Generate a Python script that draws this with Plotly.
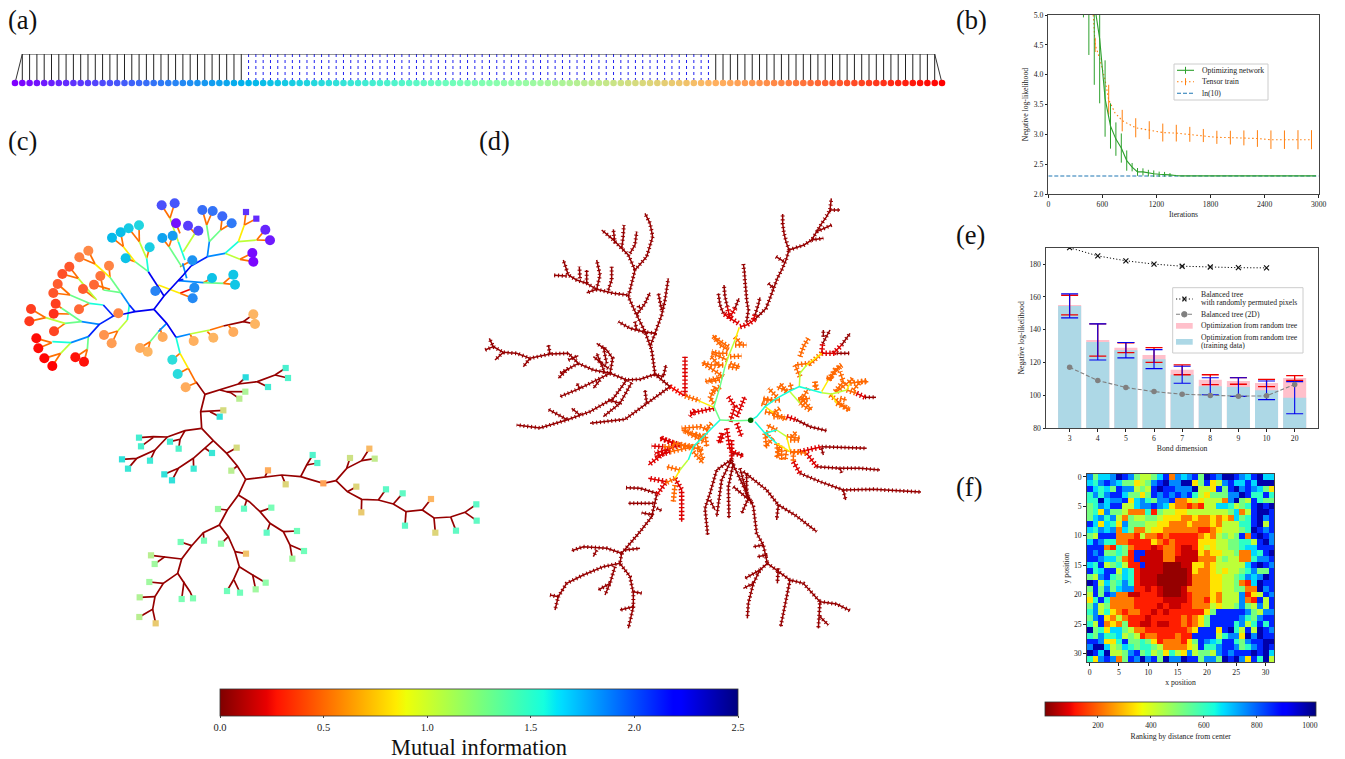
import math
import plotly.graph_objects as go
from plotly.colors import sample_colorscale

# ---------- colour scale (matplotlib jet_r) ----------
JET_R = [[0, "#7f0000"], [0.09, "#e80000"], [0.11, "#ff1300"], [0.34, "#ffec00"], [0.36, "#eeff08"],
         [0.625, "#15ffde"], [0.65, "#00e6f8"], [0.66, "#00dcff"], [0.875, "#0000ff"], [0.89, "#0000ff"], [1, "#00007f"]]
SERIF = "Liberation Serif"
TXT = "#222222"


def rainbow(t):
    r, g, b = min(1, abs(2 * t - 0.5)), math.sin(math.pi * t), math.cos(math.pi * t / 2)
    return f"rgb({int(r*255)},{int(g*255)},{int(b*255)})"


def mi_color(v):
    return sample_colorscale(JET_R, [v / 2.5])[0]


# ---------- (a) chain ----------
a_sites = list(range(128))
a_solid_left = list(range(1, 32))
a_dotted = list(range(32, 96))
a_solid_right = list(range(96, 127))

# ---------- (b) ----------
b_green_x = [390, 450, 510, 570, 630, 690, 750, 810, 870, 930, 990, 1050, 1110, 1170, 1230, 1290, 1350, 1410, 1470, 1800, 2400, 2970]
b_green_y = [6.0, 5.6, 5.2, 4.6, 3.6, 3.14, 2.92, 2.77, 2.56, 2.45, 2.37, 2.37, 2.35, 2.34, 2.33, 2.33, 2.32, 2.31, 2.303, 2.303, 2.303, 2.303]
b_green_e = [1.04, 1.27, 1.37, 1.08, 0.64, 0.38, 0.28, 0.245, 0.17, 0.07, 0.065, 0.06, 0.055, 0.055, 0.045, 0.04, 0.03, 0.01, 0, 0, 0, 0]
b_orange_x = [490, 520, 570, 630, 670, 740, 820, 970, 1120, 1270, 1420, 1570, 1720, 1870, 2020, 2170, 2320, 2470, 2620, 2770, 2920]
b_orange_y = [5.2, 4.5, 4.27, 3.91, 3.58, 3.36, 3.23, 3.11, 3.07, 3.03, 3.02, 3.0, 2.98, 2.95, 2.945, 2.94, 2.93, 2.91, 2.91, 2.91, 2.91]
b_orange_e = [0, 0.12, 0, 0, 0.25, 0, 0.18, 0.16, 0.15, 0.15, 0.14, 0.125, 0.11, 0.11, 0.115, 0.125, 0.14, 0.155, 0.155, 0.16, 0.16]
b_ln10_x = [0, 3000]
b_ln10_y = [2.302585, 2.302585]
b_xticks = [0, 600, 1200, 1800, 2400, 3000]
b_yticks = [2.0, 2.5, 3.0, 3.5, 4.0, 4.5, 5.0]

# ---------- (e) ----------
e_bond = ["3", "4", "5", "6", "7", "8", "9", "10", "20"]
e_test = [155, 133.7, 129, 124.5, 115.5, 109.5, 108.7, 107.5, 110.5]
e_test_err = [6, 9.8, 3, 4.5, 3, 3, 2, 2.2, 1.5]
e_train = [154.5, 132.5, 127.5, 122, 112.5, 105.5, 105, 103, 98.5]
e_train_err = [7.3, 11, 4.7, 5.8, 5.2, 5.2, 5.7, 5.7, 9.8]
e_2d = [117, 109, 104.7, 102.2, 100.6, 99.9, 99.4, 99.6, 106.6]
e_perm = [190.0, 185, 182, 180, 178.7, 178.2, 177.8, 177.7]
e_yticks = [80, 100, 120, 140, 160, 180]

# ---------- (f) heat map, ranks read as colour bands ----------
f_band_rank = {"V": 20, "D": 65, "R": 125, "O": 225, "Y": 340, "L": 430, "G": 520, "T": 610, "C": 680, "S": 760, "B": 860, "N": 985}
f_rows = [
    "SGCC SNBS GLLG CBOS CSBG NBSN NBSC BNCC",
    "CTSB SCGG YLGS BNSS NNYG BYLS BCCB CNNN",
    "BCTC GBSS LGLB NBBS SSNL LYBG BNSB SCGY",
    "TSTS BBCG GYGB SBSB SBTL YGGG SSNB TTBT",
    "TTNC SSBY CSTG SSBO OYLY LLLO SNGL BTGG",
    "GTSC BBLL CSSB SCYO OROR LLCC TLGT BNBN",
    "GTYS GGLO OOTR GLLY YLLL LLLL GCOL BNNB",
    "GCST SLOG LLGG LYYY OOYO OYOY OCGT BNSB",
    "BCYC TYSG GGLL YYOO OYOO OYOL LLTT BNLB",
    "CTSC SOCG OOLY YOOO OOOR ROYL LLGT NBSB",
    "GLBB BOOO RLOO RORR RRRO YOLG LGBO BNBS",
    "CBST TOOR RRRY OROR RRRY YYLL GGTT LBNS",
    "BBBO RTGO RRRD ROOR DDRY LYLL GGTC CBBB",
    "BSBG GTGR BBDD DOOR DDDY OYYL LGOO CTBN",
    "BBSC CGOR BDDD DOOD DDDO OOLG LLOO TSSB",
    "CTBL GTLR RBDD DVVV DDYY OYLL LLLC BNBS",
    "BTCB BLCT RDDD DVVV VDYO OYLY LLGT SGGB",
    "GLSB TGCT RDDD VVVV VDOO OYYL LGTS CSNB",
    "NBLC GTST RDDD VVVV VDOO OYYL LGOR CNBB",
    "GBGS GCSS RRDR DVVV DOOO OYYL LGGO ONSB",
    "LBGB SOOD DRRR DVVV DROO OYOL LLSR YLBS",
    "YTBT OOOO RRRR RDDD DROO RYOL LLSO RBLB",
    "GSLG OOOO RRRR DRDD RROO OLYL LGSG LSLB",
    "TSLT YORO ORRD RDRR RRRR YGBB BBBS GLSS",
    "GSBY OLOR RRDR RRRR OROY GBBB BBST GSBB",
    "TLBO YOGR RDDR DDRR OROY GBBB BTSL TBTB",
    "NGTY CCGL OORR RRRR ROYB BBYB NTLB LNBS",
    "TGST TCLG LROO RRRO RRBB BBLT SSYN SNBB",
    "BBSY YTBG GTGY ROOO RYGB SCTB BTGS BBNN",
    "SNNC LGCT GTTG LOOO OYLB TTSB BSGT SBNB",
    "NBCN LLGS BGTL GYTL YSLG GLSB SBBB NBNC",
    "TYSB SOGB SNSB GNSS NBBG SSGN BNSY BTNL",
]
f_ticks = [0, 5, 10, 15, 20, 25, 30]
f_cbar_ticks = [200, 400, 600, 800, 1000]

# ---------- (c) tree, upper part, (x, y) as read in a crop with origin (10,190) at 3x ----------
c5_navy = [[(432, 358), (375, 365), (342, 372)], [(432, 358), (462, 318), (520, 255), (543, 228)], [(432, 358), (470, 400), (498, 442)], [(462, 318), (415, 245)]]
c5_blue = [[(342, 372), (310, 378), (268, 403), (235, 440)], [(375, 365), (358, 345)], [(543, 228), (592, 200)], [(310, 378), (280, 345)], [(520, 268), (505, 272)]]
c5_sky = [[(235, 440), (183, 458)], [(268, 403), (215, 395)], [(358, 345), (333, 308)], [(592, 200), (645, 190)], [(592, 200), (598, 155)],
          [(505, 272), (580, 278)], [(530, 265), (518, 220)], [(498, 442), (540, 432)], [(470, 400), (445, 425)]]
c5_teal = [[(183, 458), (127, 455)], [(280, 345), (238, 340)], [(358, 345), (352, 390)], [(415, 245), (410, 205)], [(645, 190), (685, 155)],
           [(525, 210), (505, 155)], [(498, 442), (510, 490)]]
c5_green = [[(235, 440), (232, 478)], [(215, 395), (165, 400)], [(238, 340), (180, 315)], [(333, 308), (300, 262)], [(333, 308), (280, 300)],
            [(415, 245), (375, 215)], [(598, 155), (590, 105)], [(598, 155), (632, 120)], [(580, 278), (640, 280)], [(515, 230), (477, 170)],
            [(215, 395), (155, 355)], [(445, 425), (420, 455)]]
c5_lime = [[(183, 458), (152, 490)], [(165, 400), (107, 383)], [(260, 330), (205, 265)], [(352, 390), (323, 423)], [(410, 205), (388, 155)],
           [(505, 155), (480, 85)], [(520, 185), (555, 130)], [(685, 155), (740, 150)], [(645, 190), (690, 208)], [(540, 432), (600, 420)]]
c5_yellow = [[(300, 262), (255, 222)], [(375, 215), (340, 170)], [(445, 285), (510, 310)], [(685, 155), (703, 105)], [(510, 490), (535, 535)]]
c5_orange = [[(125, 458), (79, 445)], [(125, 458), (85, 475)], [(152, 490), (103, 505)], [(152, 490), (127, 528)], [(232, 478), (196, 502)],
             [(232, 478), (222, 515)], [(107, 383), (63, 357)], [(107, 383), (58, 394)], [(165, 400), (132, 424)], [(310, 378), (325, 370)],
             [(238, 340), (205, 358)], [(180, 315), (130, 309)], [(180, 315), (143, 282)], [(155, 355), (137, 341)], [(178, 372), (131, 371)],
             [(255, 222), (235, 182)], [(255, 222), (208, 202)], [(300, 262), (297, 227)], [(280, 300), (271, 258)], [(300, 298), (252, 284)],
             [(255, 325), (219, 297)], [(205, 265), (178, 230)], [(205, 265), (157, 252)], [(323, 423), (282, 435)], [(323, 423), (305, 460)],
             [(410, 205), (419, 172)], [(375, 215), (347, 205)], [(340, 170), (332, 127)], [(340, 170), (306, 143)], [(388, 155), (356, 115)],
             [(388, 155), (387, 106)], [(445, 285), (436, 303)], [(510, 310), (548, 325)], [(580, 278), (606, 264)], [(640, 280), (670, 254)],
             [(640, 280), (675, 284)], [(477, 170), (457, 144)], [(477, 170), (488, 137)], [(510, 230), (547, 211)], [(480, 85), (455, 46)],
             [(480, 85), (494, 40)], [(510, 130), (498, 100)], [(555, 130), (534, 107)], [(555, 130), (565, 122)], [(590, 105), (577, 60)],
             [(590, 105), (608, 63)], [(632, 120), (637, 79)], [(632, 120), (665, 100)], [(703, 105), (708, 66)], [(703, 105), (739, 86)],
             [(740, 150), (766, 119)], [(740, 150), (780, 151)], [(690, 208), (727, 189)], [(690, 208), (730, 215)], [(600, 420), (640, 408)],
             [(540, 432), (551, 453)], [(592, 425), (610, 443)], [(655, 405), (670, 426)], [(420, 455), (390, 474)], [(420, 455), (413, 485)],
             [(450, 415), (458, 441)], [(510, 490), (487, 509)], [(535, 535), (503, 552)], [(535, 535), (558, 578)], [(558, 578), (527, 592)]]
c5_red = [[(510, 310), (553, 293)]]
c5_dark = [[(640, 408), (700, 395), (730, 373)], [(700, 395), (735, 402)]]

c5_circle_x = [498, 730, 727, 780, 766, 455, 494, 577, 608, 637, 665, 534, 565, 457, 488, 547, 436, 553, 548, 306, 332, 356, 387, 419, 347, 606, 670, 675, 487, 503,
               527, 730, 735, 670, 610, 551, 458, 413, 390, 305, 282, 325, 297, 235, 208, 271, 252, 219, 207, 178, 157, 143, 130, 137, 131, 132, 63, 58, 79, 85, 103, 127, 196, 222]
c5_circle_y = [100, 215, 189, 151, 119, 46, 40, 60, 63, 79, 100, 107, 122, 144, 137, 211, 303, 293, 325, 143, 127, 115, 106, 172, 205, 264, 254, 284, 509, 552,
               592, 373, 402, 426, 443, 453, 441, 485, 474, 460, 435, 370, 227, 182, 202, 258, 284, 297, 358, 230, 252, 282, 309, 341, 371, 424, 357, 394, 445, 475, 505, 528, 502, 515]
c5_circle_site = [3, 1, 2, 4, 6, 13, 14, 18, 19, 17, 20, 10, 11, 28, 27, 25, 22, 24, 23, 33, 34, 37, 40, 38, 35, 35, 36, 36, 43, 42,
                  97, 95, 95, 97, 95, 96, 97, 95, 97, 100, 102, 105, 105, 104, 106, 108, 110, 112, 110, 113, 114, 112, 113, 117, 119, 116, 117, 118, 125, 125, 126, 127, 124, 124]
c5_square_x = [708, 739]
c5_square_y = [66, 86]
c5_square_site = [8, 7]

# ---------- (c) tree, lower part, crop with origin (110,360) at 3x ----------
c6_dark = [
    [(258, 65), (285, 103), (272, 155), (275, 205)], [(285, 103), (330, 90), (385, 72), (442, 65), (495, 45), (527, 24)], [(495, 45), (534, 54)], [(442, 65), (474, 81)],
    [(385, 72), (407, 52)], [(330, 90), (362, 98), (388, 116)], [(350, 95), (406, 95)], [(272, 155), (340, 151)], [(300, 155), (329, 170)],
    [(275, 205), (225, 212), (172, 231), (130, 230), (87, 233)], [(130, 232), (93, 259)], [(172, 231), (135, 270), (80, 295), (36, 298)], [(80, 295), (54, 326)], [(135, 270), (120, 302)],
    [(225, 212), (210, 238), (180, 245)], [(210, 238), (206, 266)], [(275, 205), (310, 242), (350, 280), (382, 318), (407, 358)], [(310, 242), (250, 295), (205, 325), (163, 343)],
    [(205, 325), (186, 361)], [(250, 295), (251, 326)], [(285, 265), (306, 279)], [(350, 280), (380, 263)], [(382, 318), (364, 332)],
    [(407, 358), (515, 345), (572, 350), (640, 370), (678, 362)], [(465, 350), (474, 331)], [(515, 345), (527, 373)], [(572, 350), (590, 315), (608, 285)], [(590, 315), (622, 309)],
    [(678, 362), (710, 325), (755, 302), (778, 266)], [(755, 302), (794, 296)], [(710, 325), (720, 294)],
    [(678, 362), (712, 395), (755, 418), (805, 420), (850, 432), (888, 455), (937, 450), (972, 474), (1022, 471), (1065, 457), (1099, 433)], [(1065, 457), (1100, 482)],
    [(712, 395), (739, 380)], [(755, 418), (754, 457)], [(805, 420), (828, 388)], [(850, 432), (878, 400)], [(888, 455), (885, 497)], [(937, 450), (963, 417)], [(972, 474), (976, 518)], [(1022, 471), (1038, 512)],
    [(407, 358), (385, 405), (352, 450), (328, 495), (280, 518), (245, 557), (215, 597), (203, 640), (160, 670), (135, 710), (128, 748), (88, 771)], [(128, 748), (137, 790)], [(352, 450), (324, 447)],
    [(385, 405), (418, 425), (450, 455), (480, 490), (520, 515), (540, 555), (547, 596)], [(410, 420), (402, 446)], [(450, 455), (484, 443)], [(480, 490), (470, 518)], [(520, 515), (561, 513)], [(540, 555), (582, 573)],
    [(328, 495), (355, 530), (375, 575), (388, 620), (370, 660), (351, 693)], [(372, 660), (390, 698)], [(388, 620), (428, 645), (437, 688)], [(428, 645), (467, 668)], [(355, 530), (333, 551)], [(375, 575), (408, 581)],
    [(280, 518), (282, 542)], [(245, 557), (212, 546)], [(215, 597), (165, 590), (123, 586)], [(165, 590), (134, 612)], [(203, 640), (240, 695), (249, 715)], [(222, 665), (215, 717)], [(160, 670), (118, 666)], [(135, 710), (89, 712)],
]
c6_square_x = [527, 534, 474, 407, 406, 388, 340, 329, 87, 93, 180, 206, 36, 54, 120, 163, 186, 251, 306, 380, 364, 474, 527, 608, 622, 640, 720, 778, 794, 739, 754, 828, 878, 885, 963, 976, 1038, 1099, 1100,
               324, 402, 484, 470, 561, 582, 547, 333, 408, 282, 212, 123, 134, 351, 390, 437, 467, 249, 215, 118, 89, 88, 137]
c6_square_y = [24, 54, 81, 52, 95, 116, 151, 170, 233, 259, 245, 266, 298, 326, 302, 343, 361, 326, 279, 263, 332, 331, 373, 285, 309, 370, 294, 266, 296, 380, 457, 388, 400, 497, 417, 518, 512, 433, 482,
               447, 446, 443, 518, 513, 573, 596, 551, 581, 542, 546, 586, 612, 693, 698, 688, 668, 715, 717, 666, 712, 771, 790]
c6_square_site = [50, 52, 48, 42, 75, 78, 85, 44, 49, 50, 48, 52, 44, 46, 47, 44, 44, 47, 46, 85, 78, 97, 87, 52, 52, 99, 83, 94, 80, 87, 90, 55, 56, 55, 95, 87, 56, 55, 56,
                  70, 57, 62, 56, 60, 60, 72, 68, 92, 62, 61, 78, 72, 60, 60, 72, 68, 64, 63, 72, 76, 78, 90]

# ---------- (d) tree, crop with origin (480,190) at 3x ----------
d7_dark = [
    [(570, 590), (525, 553), (515, 480), (495, 425), (470, 375), (445, 320), (465, 240), (500, 200), (518, 140), (510, 100), (495, 70)],
    [(465, 240), (445, 195), (425, 175), (395, 145), (365, 120)], [(425, 175), (430, 140), (432, 105)], [(450, 190), (465, 165), (470, 125)], [(405, 160), (400, 118)],
    [(442, 315), (400, 310), (350, 298), (320, 280), (290, 270), (265, 255), (250, 210)], [(350, 298), (360, 255), (350, 210)], [(385, 300), (395, 270), (395, 230)],
    [(320, 280), (320, 240)], [(300, 265), (298, 230)], [(260, 258), (222, 256)], [(350, 298), (320, 308)],
    [(470, 375), (495, 340), (510, 308)], [(480, 350), (470, 350)], [(490, 425), (525, 430), (545, 375), (555, 330), (565, 265)], [(525, 430), (510, 470)], [(545, 360), (535, 310)],
    [(490, 425), (450, 415), (415, 395)], [(470, 420), (465, 395)],
    [(525, 553), (480, 568), (440, 570), (390, 550), (340, 540), (295, 520), (265, 490), (210, 492), (150, 505), (110, 490), (70, 487), (40, 470), (28, 445)],
    [(70, 487), (45, 510)], [(40, 470), (15, 480)], [(150, 505), (130, 530)], [(210, 492), (205, 465)], [(265, 510), (295, 497)],
    [(390, 550), (398, 505), (380, 480), (350, 460)], [(385, 535), (340, 500)], [(375, 550), (350, 490)], [(380, 520), (370, 470)],
    [(295, 520), (240, 550)], [(265, 535), (235, 565)], [(390, 550), (360, 565), (300, 595), (240, 620)], [(360, 570), (340, 595)], [(300, 595), (290, 580)],
    [(440, 570), (400, 625), (330, 665), (260, 690), (180, 714), (110, 705)], [(300, 675), (275, 655)], [(260, 688), (205, 658)],
    [(455, 578), (420, 640), (370, 680)], [(420, 640), (385, 630)], [(570, 590), (500, 640), (435, 688), (330, 700)], [(500, 640), (495, 600)],
    [(522, 553), (550, 560), (558, 525)],
]
d7_red = [[(570, 590), (610, 615)]]

# ---------- (d) tree, crop with origin (640,190) at 3x ----------
d8_dark = [
    [(345, 388), (362, 372), (378, 355), (390, 325), (400, 295), (412, 265), (425, 240), (438, 210), (447, 180)], [(447, 180), (438, 155), (432, 130), (428, 100), (428, 72)],
    [(447, 180), (470, 172), (492, 165), (515, 150), (530, 125), (545, 100), (560, 80), (570, 60), (574, 25)], [(320, 395), (325, 360), (320, 330), (318, 300), (315, 270), (313, 240), (310, 222)],
    [(250, 370), (240, 345), (235, 310)], [(262, 350), (255, 320), (252, 285)], [(285, 355), (297, 325)], [(345, 375), (355, 345), (360, 322)], [(570, 60), (600, 60)], [(530, 125), (575, 105)], [(515, 150), (550, 145)],
    [(408, 200), (432, 215)], [(385, 280), (400, 295)],
    [(548, 460), (570, 420)], [(550, 440), (550, 420)], [(590, 490), (628, 490)], [(605, 465), (630, 430)], [(675, 622), (708, 622)],
    [(470, 690), (510, 710), (560, 722)], [(545, 770), (610, 772), (680, 775)],
]
d8_red = [
    [(300, 410), (320, 405), (345, 388)], [(295, 400), (270, 385), (250, 370)], [(270, 385), (262, 350)], [(272, 378), (285, 355)], [(340, 390), (345, 375)],
    [(135, 618), (135, 560), (135, 500)], [(222, 655), (150, 670)], [(165, 660), (150, 680)], [(545, 490), (590, 490)], [(545, 490), (548, 460)], [(440, 680), (470, 690)],
    [(480, 785), (545, 770)], [(650, 610), (675, 622)], [(580, 490), (605, 465)],
    [(270, 695), (285, 650), (265, 620)], [(290, 680), (315, 620)], [(290, 700), (305, 740)], [(260, 715), (270, 780), (310, 800)], [(250, 730), (240, 760)], [(70, 770), (35, 768)], [(90, 785), (45, 800)], [(100, 760), (60, 742)],
]
d8_orange = [
    [(135, 618), (180, 632)], [(262, 510), (215, 490)], [(265, 470), (220, 440)], [(250, 560), (190, 520)], [(240, 570), (205, 575)], [(285, 465), (320, 465)], [(270, 520), (300, 530)], [(225, 590), (210, 625)],
    [(240, 530), (212, 498)], [(620, 600), (650, 610)], [(630, 580), (680, 572)], [(600, 530), (565, 570)], [(590, 640), (630, 660)], [(505, 445), (490, 470), (480, 500)], [(510, 520), (465, 525)],
    [(510, 660), (480, 640)], [(480, 640), (500, 625)], [(440, 603), (410, 590)], [(420, 630), (370, 630)], [(400, 668), (440, 690)], [(375, 730), (380, 775)], [(410, 760), (415, 800)], [(450, 785), (480, 785)],
    [(440, 740), (480, 745)], [(410, 720), (380, 705)], [(190, 740), (125, 720)], [(215, 700), (195, 720)], [(150, 770), (190, 780)], [(160, 770), (100, 760)], [(160, 770), (90, 785)], [(100, 770), (70, 770)], [(525, 575), (525, 595)],
    [(265, 480), (240, 465), (218, 435)], [(262, 490), (235, 490), (215, 485)], [(250, 525), (215, 525), (185, 518)], [(245, 560), (215, 570), (195, 575)], [(240, 590), (212, 612)], [(222, 640), (210, 625)],
    [(285, 440), (305, 465)], [(270, 500), (305, 498)], [(265, 530), (298, 535)], [(480, 560), (465, 525)], [(545, 490), (525, 510), (505, 525)], [(530, 600), (525, 575)], [(505, 595), (485, 630)],
    [(480, 620), (515, 660)], [(475, 630), (510, 625)], [(570, 615), (600, 640), (630, 662)], [(600, 625), (620, 630)], [(585, 605), (610, 575), (600, 545)], [(565, 570), (585, 540), (605, 525)], [(560, 565), (580, 565)],
    [(590, 605), (640, 565)], [(640, 600), (660, 575), (685, 575)], [(410, 620), (385, 595)], [(440, 605), (420, 580)], [(455, 600), (450, 578)], [(395, 630), (370, 625)], [(380, 645), (365, 640)],
    [(375, 665), (400, 670), (420, 655)], [(400, 680), (435, 680)], [(400, 745), (375, 770)], [(385, 740), (380, 720)], [(420, 765), (410, 805)], [(440, 780), (435, 810)], [(425, 770), (425, 810)],
    [(455, 740), (470, 725)], [(450, 750), (478, 750)], [(205, 720), (180, 710), (125, 715)], [(190, 745), (160, 730)], [(195, 730), (200, 770)], [(170, 760), (190, 810)],
]
d8_yellow = [[(285, 450), (298, 412)], [(175, 632), (222, 652)], [(500, 525), (545, 490)], [(565, 570), (545, 605)], [(620, 600), (630, 580)], [(575, 612), (590, 640)], [(410, 760), (450, 785)], [(375, 650), (400, 668)], [(440, 740), (450, 780)]]
d8_lime = [[(255, 530), (265, 500), (285, 450)], [(545, 608), (575, 612), (620, 600)], [(478, 590), (480, 550), (500, 525)], [(450, 605), (480, 640)], [(410, 720), (440, 740)]]
d8_green = [[(240, 690), (222, 650), (240, 590), (255, 530)], [(332, 691), (290, 692), (240, 690)]]
d8_teal = [[(332, 691), (350, 680), (375, 650), (410, 625), (450, 603), (478, 590), (515, 600), (545, 608)], [(345, 695), (375, 730), (410, 760)], [(240, 690), (190, 740), (160, 770), (145, 810)], [(375, 730), (410, 720)]]
d_center_x = [332]
d_center_y = [691]

# ---------- (d) tree, crop with origin (540,420) at 3x ----------
d9_dark = [
    [(350, 225), (340, 265), (335, 290), (300, 335), (265, 375), (245, 400)], [(245, 400), (240, 430), (270, 470), (280, 520), (280, 560), (265, 625)], [(280, 560), (240, 570)], [(280, 515), (305, 520)],
    [(245, 400), (200, 385), (130, 380), (95, 392)], [(240, 430), (190, 440), (130, 465), (80, 490), (55, 530), (45, 570)], [(55, 530), (30, 525)], [(225, 440), (210, 490), (195, 525)], [(210, 490), (175, 510)], [(170, 390), (160, 410)],
    [(350, 220), (300, 205), (258, 203)], [(340, 250), (265, 250)], [(340, 285), (305, 278)], [(350, 265), (365, 272)], [(255, 390), (300, 385)],
    [(575, 118), (530, 150), (510, 220), (495, 265), (503, 345)], [(575, 118), (545, 180), (530, 290)], [(580, 130), (565, 200), (567, 295)], [(575, 125), (640, 260), (650, 340), (670, 375), (682, 430)], [(510, 240), (525, 270)],
    [(600, 145), (625, 235), (605, 280)], [(620, 160), (620, 230)], [(610, 155), (680, 210), (715, 255), (765, 285), (830, 335)], [(715, 255), (710, 300)], [(580, 200), (640, 250)], [(575, 118), (575, 100), (610, 105)],
    [(670, 375), (640, 380)], [(682, 405), (652, 410)], [(682, 430), (660, 450), (640, 490), (625, 550), (622, 595)], [(660, 450), (615, 475)], [(640, 490), (610, 505)],
    [(682, 430), (750, 480), (790, 490), (840, 545), (835, 625)], [(750, 480), (735, 560), (722, 620)], [(715, 445), (712, 490)], [(840, 545), (890, 552), (930, 572)], [(840, 590), (865, 615)],
    [(780, 160), (840, 185), (910, 210), (1000, 208), (1143, 216)], [(910, 210), (917, 240)], [(830, 140), (900, 145), (960, 145), (1020, 150)], [(900, 145), (905, 158)], [(845, 85), (850, 105)],
]
d9_red = [
    [(405, 175), (425, 210), (425, 305)], [(380, 185), (325, 175)], [(420, 75), (390, 85), (325, 135)], [(420, 75), (360, 55)], [(390, 85), (345, 100)], [(375, 190), (350, 225)],
    [(575, 60), (575, 118)], [(545, 40), (535, 70)], [(760, 125), (780, 160)], [(800, 100), (830, 140)],
]
d9_orange = [[(420, 150), (380, 140)], [(460, 95), (490, 130)], [(490, 65), (430, 30)], [(445, 80), (420, 75)], [(405, 175), (375, 190)], [(760, 95), (760, 125)], [(760, 95), (800, 100)], [(405, 195), (400, 245)]]
d9_yellow = [[(420, 150), (405, 175)]]
d9_lime = [[(444, 120), (420, 150)]]

f_fig_w, f_fig_h = 1345, 759


def flatten(polys, origin):
    xs, ys = [], []
    for p in polys:
        xs += [origin[0] + q[0] / 3 for q in p] + [None]
        ys += [origin[1] + q[1] / 3 for q in p] + [None]
    return xs, ys


fig = go.Figure()
Z5, Z6, Z7, Z8, Z9 = (10, 190), (110, 360), (480, 190), (640, 190), (540, 420)

# tree (c)
c_groups = [(c5_dark, 0.05, Z5), (c6_dark, 0.05, Z6), (c5_red, 0.25, Z5), (c5_orange, 0.52, Z5), (c5_yellow, 0.85, Z5), (c5_lime, 1.05, Z5),
            (c5_green, 1.3, Z5), (c5_teal, 1.55, Z5), (c5_sky, 1.85, Z5), (c5_blue, 2.1, Z5), (c5_navy, 2.25, Z5)]
for polys, mi, org in c_groups:
    xs, ys = flatten(polys, org)
    fig.add_trace(go.Scatter(x=xs, y=ys, mode="lines", line=dict(color=mi_color(mi), width=1.7), hoverinfo="skip", showlegend=False))
for sx, sy, site, org, sym, size in [(c5_circle_x, c5_circle_y, c5_circle_site, Z5, "circle", 10), (c5_square_x, c5_square_y, c5_square_site, Z5, "square", 6.2),
                                     (c6_square_x, c6_square_y, c6_square_site, Z6, "square", 6.2)]:
    fig.add_trace(go.Scatter(x=[org[0] + v / 3 for v in sx], y=[org[1] + v / 3 for v in sy], mode="markers",
                             marker=dict(symbol=sym, size=size, color=[rainbow(s / 127) for s in site], line=dict(width=0)), hoverinfo="skip", showlegend=False))

# tree (d): a thick short-dash stroke over each outer branch draws its side twigs
d_groups = [(d7_dark, 0.05, Z7), (d8_dark, 0.05, Z8), (d9_dark, 0.05, Z9), (d7_red, 0.25, Z7), (d8_red, 0.2, Z8), (d9_red, 0.2, Z9), (d8_orange, 0.5, Z8), (d9_orange, 0.5, Z9),
            (d8_yellow, 0.85, Z8), (d9_yellow, 0.85, Z9), (d8_lime, 1.05, Z8), (d9_lime, 1.05, Z9), (d8_green, 1.3, Z8), (d8_teal, 1.55, Z8)]
for polys, mi, org in d_groups:
    xs, ys = flatten(polys, org)
    col = mi_color(mi)
    if mi < 0.15:
        fig.add_trace(go.Scatter(x=xs, y=ys, mode="lines", line=dict(color=col, width=4, dash="1.1px,2.7px"), hoverinfo="skip", showlegend=False))
    elif mi < 0.7:
        fig.add_trace(go.Scatter(x=xs, y=ys, mode="lines", line=dict(color=col, width=5.5, dash="1.4px,2.4px"), hoverinfo="skip", showlegend=False))
    fig.add_trace(go.Scatter(x=xs, y=ys, mode="lines", line=dict(color=col, width=1.5), hoverinfo="skip", showlegend=False))
fig.add_trace(go.Scatter(x=[Z8[0] + v / 3 for v in d_center_x], y=[Z8[1] + v / 3 for v in d_center_y], mode="markers",
                         marker=dict(size=5.5, color="#006400"), hoverinfo="skip", showlegend=False))

# mutual information colour bar, attached to an off-canvas carrier point
fig.add_trace(go.Scatter(x=[-50, -50], y=[-50, -50], mode="markers", hoverinfo="skip", showlegend=False,
                         marker=dict(size=1, color=[0, 2.5], cmin=0, cmax=2.5, colorscale=JET_R, showscale=True,
                                     colorbar=dict(orientation="h", x=479 / f_fig_w, xanchor="center", y=1 - 689 / f_fig_h, yanchor="top", xpad=0, ypad=0,
                                                   len=518, lenmode="pixels", thickness=27, thicknessmode="pixels", outlinewidth=0.8, outlinecolor="#333",
                                                   tickvals=[0, 0.5, 1, 1.5, 2, 2.5], ticktext=["0.0", "0.5", "1.0", "1.5", "2.0", "2.5"], ticks="outside", ticklen=2, tickwidth=0.8,
                                                   tickfont=dict(family=SERIF, size=10.5, color=TXT),
                                                   title=dict(text="Mutual information", side="bottom", font=dict(family=SERIF, size=22.4, color="#111"))))))

# (a)
for ids, dash, col in [(a_solid_left, "solid", "#222"), (a_dotted, "dot", "#2020f0"), (a_solid_right, "solid", "#222")]:
    xs, ys = [], []
    for i in ids:
        xs += [i, i, None]
        ys += [1, 0, None]
    fig.add_trace(go.Scatter(x=xs, y=ys, mode="lines", line=dict(color=col, width=1, dash=dash), xaxis="x2", yaxis="y2", hoverinfo="skip", showlegend=False))
fig.add_trace(go.Scatter(x=[a_sites[0], a_sites[1], a_sites[-2], a_sites[-1]], y=[0, 1, 1, 0], mode="lines", line=dict(color="#333", width=1), xaxis="x2", yaxis="y2", hoverinfo="skip", showlegend=False))
fig.add_trace(go.Scatter(x=a_sites, y=[0 for _ in a_sites], mode="markers", cliponaxis=False, xaxis="x2", yaxis="y2", hoverinfo="skip", showlegend=False,
                         marker=dict(size=6.6, color=[rainbow(i / 127) for i in a_sites], line=dict(width=0))))

# (b)
fig.add_trace(go.Scatter(x=b_ln10_x, y=b_ln10_y, mode="lines", name="ln(10)", line=dict(color="#1f77b4", width=1.1, dash="4px,2px"), xaxis="x3", yaxis="y3"))
fig.add_trace(go.Scatter(x=b_orange_x, y=b_orange_y, mode="lines", name="Tensor train", line=dict(color="#ff7f0e", width=1.1, dash="1.5px,2.5px"), xaxis="x3", yaxis="y3",
                         error_y=dict(type="data", array=b_orange_e, color="#ff7f0e", thickness=1, width=0)))
fig.add_trace(go.Scatter(x=b_green_x, y=b_green_y, mode="lines", name="Optimizing network", line=dict(color="#2ca02c", width=1.1), xaxis="x3", yaxis="y3",
                         error_y=dict(type="data", array=b_green_e, color="#2ca02c", thickness=1, width=0)))

# (e)
e_pos = list(range(len(e_bond)))
fig.add_trace(go.Bar(x=e_pos, y=e_test, width=0.82, marker=dict(color="#ffc0cb", line=dict(width=0)), name="Optimization from random tree", xaxis="x4", yaxis="y4"))
fig.add_trace(go.Bar(x=e_pos, y=e_train, width=0.82, marker=dict(color="#add8e6", line=dict(width=0)), name="Optimization from random tree (training data)", xaxis="x4", yaxis="y4"))
fig.add_trace(go.Scatter(x=e_pos, y=e_test, mode="markers", marker=dict(size=1, opacity=0), xaxis="x4", yaxis="y4", hoverinfo="skip",
                         error_y=dict(type="data", array=e_test_err, color="#ee0000", thickness=1.3, width=8.5)))
fig.add_trace(go.Scatter(x=e_pos, y=e_train, mode="markers", marker=dict(size=1, opacity=0), xaxis="x4", yaxis="y4", hoverinfo="skip",
                         error_y=dict(type="data", array=e_train_err, color="#0000ee", thickness=1.1, width=8.5)))
fig.add_trace(go.Scatter(x=e_pos, y=e_2d, mode="lines+markers", name="Balanced tree (2D)", line=dict(color="#808080", width=1.1, dash="4px,2px"), marker=dict(color="#808080", size=5.5), xaxis="x4", yaxis="y4"))
fig.add_trace(go.Scatter(x=e_pos[:len(e_perm)], y=e_perm, mode="lines+markers", name="Balanced tree with randomly permuted pixels", line=dict(color="#111", width=1, dash="1.2px,2px"),
                         marker=dict(symbol="x-thin", size=5, line=dict(width=1.2, color="#111"), color="#111"), xaxis="x4", yaxis="y4"))

# (f)
f_z = [[f_band_rank[c] for c in row.replace(" ", "")] for row in f_rows]
fig.add_trace(go.Heatmap(z=f_z, zmin=1, zmax=1024, colorscale=JET_R, xaxis="x5", yaxis="y5", hoverinfo="skip", xgap=0, ygap=0,
                         colorbar=dict(orientation="h", x=1180.7 / f_fig_w, xanchor="center", y=1 - 702 / f_fig_h, yanchor="top", xpad=0, ypad=0,
                                       len=271, lenmode="pixels", thickness=14, thicknessmode="pixels", outlinewidth=0.8, outlinecolor="#333",
                                       tickvals=f_cbar_ticks, ticks="outside", ticklen=2.5, tickwidth=0.7, tickfont=dict(family=SERIF, size=7.7, color=TXT),
                                       title=dict(text="Ranking by distance from center", side="bottom", font=dict(family=SERIF, size=7.7, color=TXT)))))


def dom_x(a, b):
    return [a / f_fig_w, b / f_fig_w]


def dom_y(top, bottom):
    return [1 - bottom / f_fig_h, 1 - top / f_fig_h]


def frame(**kw):
    base = dict(showgrid=False, zeroline=False, showline=True, mirror=True, linecolor="#444", linewidth=1, ticks="outside", ticklen=2.5, tickwidth=0.7, tickcolor="#222",
                tickfont=dict(family=SERIF, size=7.7, color=TXT))
    base.update(kw)
    return base


def ax_title(t):
    return dict(text=t, font=dict(family=SERIF, size=7.7, color=TXT), standoff=3)


def px(x):
    return x / f_fig_w


def py(y):
    return 1 - y / f_fig_h


def seg(x0, y0, x1, y1, color, width=1.1, dash="solid"):
    return dict(type="line", xref="paper", yref="paper", x0=px(x0), y0=py(y0), x1=px(x1), y1=py(y1), line=dict(color=color, width=width, dash=dash), layer="above")


def box(x0, y0, x1, y1, fill, line="rgba(0,0,0,0)", kind="rect"):
    return dict(type=kind, xref="paper", yref="paper", x0=px(x0), y0=py(y0), x1=px(x1), y1=py(y1), fillcolor=fill, line=dict(color=line, width=1), layer="above")


# panel legends are drawn by hand because Plotly's legend rows cannot be as tight as the reference's
legend_shapes = [
    box(1174, 64, 1268, 100, "rgba(255,255,255,0.8)", "#cccccc"),
    seg(1177, 70.3, 1194, 70.3, "#2ca02c"), seg(1185.5, 66.8, 1185.5, 73.8, "#2ca02c", 1),
    seg(1177, 81.7, 1194, 81.7, "#ff7f0e", 1.1, "1.5px,2.5px"), seg(1185.5, 78.2, 1185.5, 85.2, "#ff7f0e", 1),
    seg(1177, 93.3, 1194, 93.3, "#1f77b4", 1.1, "4px,2px"),
    box(1172.7, 287.7, 1303, 353, "rgba(255,255,255,0.8)", "#cccccc"),
    seg(1176, 299, 1192.7, 299, "#111", 1, "1.2px,2px"), seg(1182.4, 296.6, 1186.4, 301.4, "#111", 1.2), seg(1182.4, 301.4, 1186.4, 296.6, "#111", 1.2),
    seg(1176, 314.3, 1192.7, 314.3, "#808080", 1.1, "4px,2px"), box(1181.6, 311.6, 1187.1, 317, "#808080", "#808080", "circle"),
    box(1176, 323, 1192.7, 328.7, "#ffc0cb"), box(1176, 339, 1192.7, 344.7, "#add8e6"),
]
legend_texts = [("Optimizing network", 1199.7, 70.3), ("Tensor train", 1199.7, 81.7), ("ln(10)", 1199.7, 93.3),
                ("Balanced tree", 1198.7, 294), ("with randomly permuted pixels", 1198.7, 302.7), ("Balanced tree (2D)", 1198.7, 314.3),
                ("Optimization from random tree", 1198.7, 325.7), ("Optimization from random tree", 1198.7, 337.3), ("(training data)", 1198.7, 345.7)]
labels = [("(a)", 6, 20), ("(b)", 954, 20), ("(c)", 6, 141), ("(d)", 477, 141), ("(e)", 954, 235), ("(f)", 954, 487)]
annotations = [dict(text=t, x=px(x), y=py(y), xref="paper", yref="paper", xanchor="left", yanchor="middle", showarrow=False, font=dict(family=SERIF, size=26.5, color="#111")) for t, x, y in labels]
annotations += [dict(text=t, x=px(x), y=py(y), xref="paper", yref="paper", xanchor="left", yanchor="middle", showarrow=False, font=dict(family=SERIF, size=7.7, color=TXT)) for t, x, y in legend_texts]

fig.update_layout(
    width=f_fig_w, height=f_fig_h, margin=dict(l=0, r=0, t=0, b=0, autoexpand=False), paper_bgcolor="white", plot_bgcolor="rgba(0,0,0,0)", barmode="overlay", showlegend=False,
    xaxis=dict(domain=[0, 1], range=[0, f_fig_w], visible=False),
    yaxis=dict(domain=[0, 1], range=[f_fig_h, 0], visible=False),
    xaxis2=dict(domain=dom_x(15, 942), range=[0, 127], visible=False, anchor="y2"),
    yaxis2=dict(domain=dom_y(54, 83), range=[0, 1], visible=False, anchor="x2"),
    xaxis3=frame(domain=dom_x(1048.3, 1318.7), range=[0, 3000], tickvals=b_xticks, anchor="y3", title=ax_title("Iterations")),
    yaxis3=frame(domain=dom_y(15, 194), range=[2, 5], tickvals=b_yticks, tickformat=".1f", anchor="x3", title=ax_title("Negative log-likelihood")),
    xaxis4=frame(domain=dom_x(1046, 1318.3), range=[-0.84, 8.84], tickvals=e_pos, ticktext=e_bond, anchor="y4", title=ax_title("Bond dimension")),
    yaxis4=frame(domain=dom_y(247.7, 428), range=[80, 190], tickvals=e_yticks, anchor="x4", title=ax_title("Negative log-likelihood")),
    xaxis5=frame(domain=dom_x(1086.7, 1274.3), range=[-0.5, 31.5], tickvals=f_ticks, anchor="y5", title=ax_title("x position")),
    yaxis5=frame(domain=dom_y(474, 662.3), range=[31.5, -0.5], tickvals=f_ticks, anchor="x5", title=ax_title("y position")),
    shapes=legend_shapes,
    annotations=annotations,
)
fig.write_html("out.html", config={"displayModeBar": False}, post_script="document.body.style.margin='0';document.body.style.overflow='hidden';")
